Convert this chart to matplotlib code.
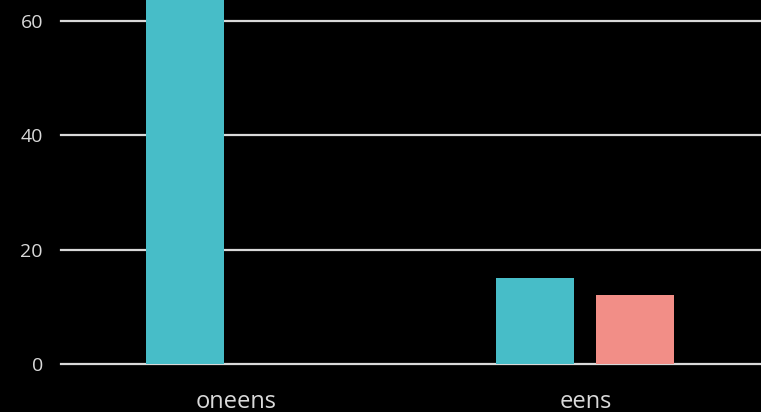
import matplotlib
matplotlib.use("Agg")
import matplotlib.pyplot as plt
import numpy as np

categories = ["oneens", "eens"]
series_a = [72, 15]   # teal (first bar clipped at top)
series_b = [0, 12]    # salmon
yticks = [0, 20, 40, 60]

teal = "#47BDC8"
salmon = "#F28E87"
grid_c = "#D9D9D9"

fig = plt.figure(figsize=(7.61, 4.12), dpi=100, facecolor="black")
ax = fig.add_axes([61/761, 48/412, 700/761, 364/412])
ax.set_facecolor("black")

x = np.arange(len(categories))
w = 0.222
ax.bar(x - 0.145, series_a, width=w, color=teal, zorder=3)
ax.bar(x + 0.14, series_b, width=w, color=salmon, zorder=3)

ax.set_xlim(-0.5, 1.5)
ax.set_ylim(0, 63.7)
ax.set_yticks(yticks)
ax.yaxis.grid(True, color=grid_c, linewidth=1.6, zorder=0)
for gl in ax.get_ygridlines():
    gl.set_clip_on(False)
ax.set_xticks(x)
ax.set_xticklabels(categories)
for s in ax.spines.values():
    s.set_visible(False)
ax.tick_params(axis="both", length=0)
ax.tick_params(axis="y", labelsize=14, labelcolor=grid_c, pad=13)
ax.tick_params(axis="x", labelsize=17, labelcolor=grid_c, pad=19)
for lab in ax.get_xticklabels() + ax.get_yticklabels():
    lab.set_fontfamily("Open Sans")

fig.savefig("out.png", dpi=100, facecolor="black")
